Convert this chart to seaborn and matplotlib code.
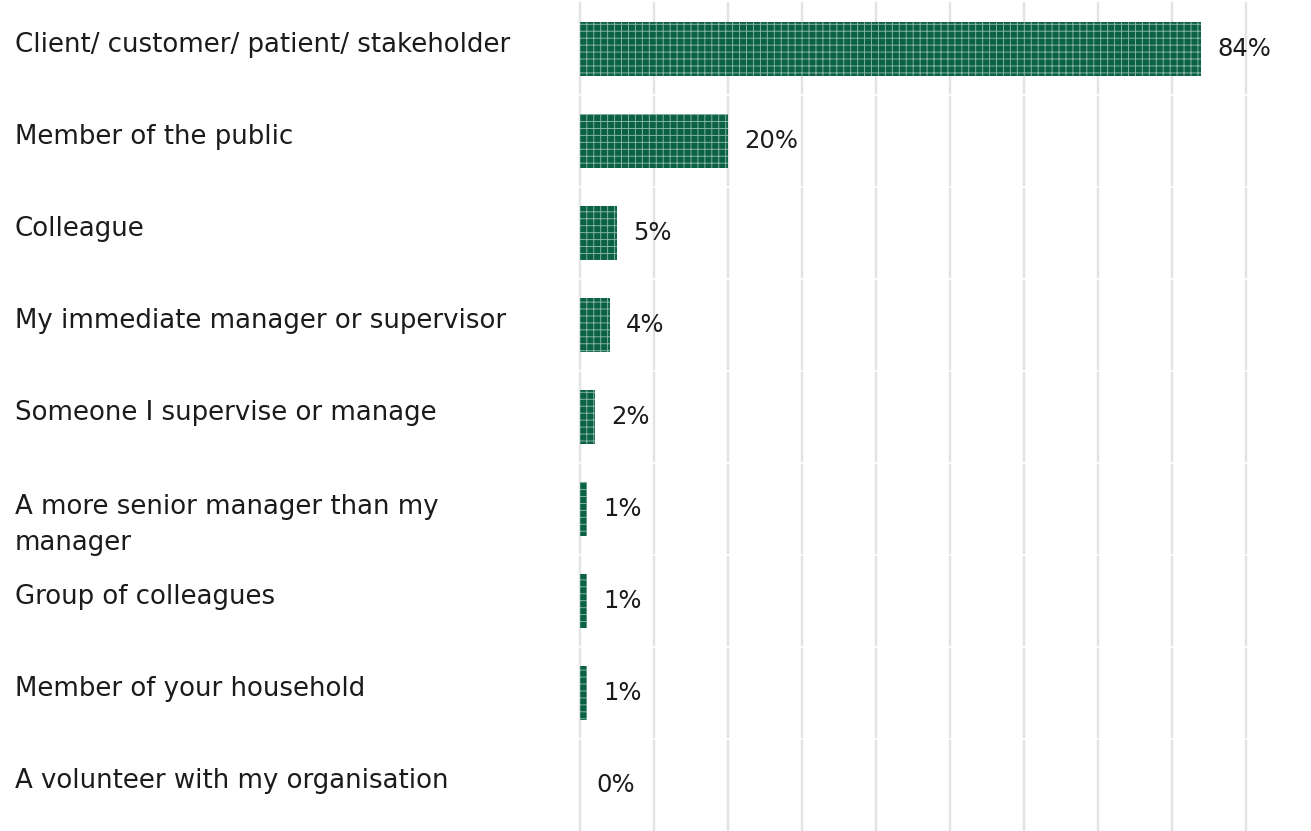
import matplotlib
matplotlib.use("Agg")
import matplotlib.pyplot as plt
import seaborn as sns
import pandas as pd

# Who was responsible for the behaviour (share of respondents, %)
categories = [
    "Client/ customer/ patient/ stakeholder",
    "Member of the public",
    "Colleague",
    "My immediate manager or supervisor",
    "Someone I supervise or manage",
    "A more senior manager than my\nmanager",
    "Group of colleagues",
    "Member of your household",
    "A volunteer with my organisation",
]
values = [84, 20, 5, 4, 2, 1, 1, 1, 0]
grid_ticks = [0, 10, 20, 30, 40, 50, 60, 70, 80, 90]

df = pd.DataFrame({"category": categories, "value": values})

BAR = "#0a6145"
HATCH = "#86b3a2"
TEXT = "#1b1b1b"
GRID = "#e3e3e3"

sns.set_theme(style="white")
plt.rcParams["font.family"] = ["DejaVu Sans"]
plt.rcParams["hatch.linewidth"] = 0.55

DPI = 125
PT = 72 / DPI  # points per pixel
fig = plt.figure(figsize=(1311 / DPI, 831 / DPI), dpi=DPI)
ax = fig.add_axes([580 / 1311, 0.0, 1 - 580 / 1311, 828 / 831])

sns.barplot(data=df, x="value", y="category", orient="h", color=BAR,
            width=0.585, saturation=1, ax=ax, zorder=3)
for p in ax.patches:
    p.set_hatch("+++")
    p.set_edgecolor(HATCH)
    p.set_linewidth(0)

ax.set_xlim(0, 98.8)
ax.set_ylim(len(categories) - 0.5, -0.5)

# vertical reference lines, broken between rows
for t in grid_ticks:
    ax.axvline(t, color=GRID, lw=1.4, zorder=1, clip_on=False)
for i in range(1, len(categories)):
    ax.axhline(i - 0.5, color="white", lw=1.0, zorder=2, clip_on=False)

# value labels
for i, v in enumerate(values):
    ax.annotate(f"{v}%", xy=(v, i), xytext=(16 * PT, 0), textcoords="offset points",
                ha="left", va="center", fontsize=14, color=TEXT, zorder=4)

# category labels, left aligned at the figure edge
ax.set_yticks(range(len(categories)))
ax.set_yticklabels([])
for i, c in enumerate(categories):
    dy = -16 if "\n" in c else 4
    ax.annotate(c, xy=(0, i), xycoords=("figure fraction", "data"),
                xytext=(15 * PT, dy * PT), textcoords="offset points",
                ha="left", va="center", fontsize=15, color=TEXT,
                linespacing=1.45, annotation_clip=False)

ax.set_xlabel("")
ax.set_ylabel("")
ax.set_xticks([])
ax.tick_params(left=False, bottom=False)
sns.despine(ax=ax, left=True, bottom=True, top=True, right=True)

fig.savefig("out.png", dpi=DPI)
